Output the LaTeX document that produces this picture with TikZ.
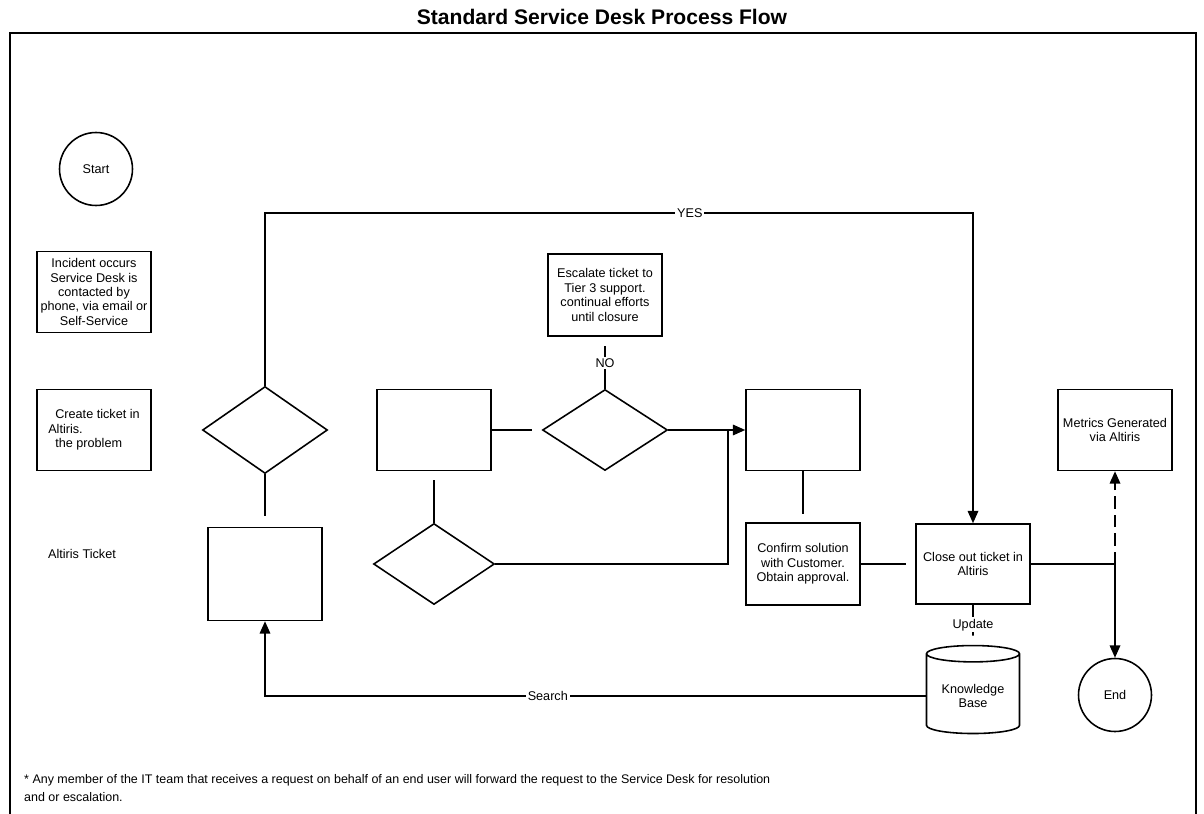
\documentclass[tikz,border=0pt]{standalone}
\usepackage{fontspec}
\setmainfont{Liberation Sans}
\usetikzlibrary{arrows.meta, positioning, calc, shapes.geometric}

\begin{document}
\begin{tikzpicture}[
				x=0.02cm, y=-0.02cm,
				font=\fontsize{7.2}{8.2}\selectfont,
				box/.style={rectangle, draw, line width=0.9pt, minimum width=2.28cm,
					minimum height=1.62cm, align=center, inner sep=1pt},
				decision/.style={diamond, draw, line width=0.9pt, inner sep=0pt,
					minimum width=2.5cm, minimum height=1.62cm},
				terminal/.style={circle, draw, line width=0.9pt, minimum size=1.46cm},
				line/.style={draw, line width=0.9pt},
				arrow/.style={line, -{Triangle[length=7pt, width=6pt]}},
				dasharrow/.style={arrow, dash pattern=on 7pt off 3.5pt},
				lbl/.style={fill=white, inner sep=1pt}
				]
				\useasboundingbox (0,0) rectangle (1204,814);
				% --- Title and frame ---
				\node[font=\bfseries\fontsize{12}{14}\selectfont] (title) at (602,17) {Standard Service Desk Process Flow};
				\draw[line] (10,820) -- (10,33) -- (1196,33) -- (1196,820);
				
				% --- Left column ---
				\node[terminal] (start) at (96,169) {Start};
				\node[box] (incident) at (94,292) {Incident occurs\\ Service Desk is\\ contacted by\\ phone, via email or\\ Self-Service};
				\node[box, align=left] (create) at (94,430) {\hspace*{4pt}Create ticket in\\ Altiris.\\ \hspace*{4pt}the problem};
				\node (ticket) at (82,554) {Altiris Ticket};
				
				% --- Process ---
				\node[decision, minimum height=1.74cm] (dec1) at (265,430) {};
				\node[box, minimum height=1.86cm] (act1) at (265,574) {};
				\node[box] (act2) at (434,430) {};
				\node[decision] (dec2) at (605,430) {};
				\node[box, minimum height=1.64cm] (escal) at (605,295) {Escalate ticket to\\ Tier 3 support.\\ continual efforts\\ until closure};
				\node[decision, minimum width=2.42cm] (dec3) at (434,564) {};
				\node[box] (act3) at (803,430) {};
				\node[box, minimum height=1.64cm] (confirm) at (803,564) {Confirm solution\\ with Customer.\\ Obtain approval.};
				\node[box, minimum height=1.6cm] (close) at (973,564) {Close out ticket in\\ Altiris};
				\node[box] (metrics) at (1115,430) {Metrics Generated\\ via Altiris};
				\node[cylinder, shape border rotate=90, aspect=0.22, draw, line width=0.9pt,
					minimum width=1.86cm, minimum height=1.76cm, align=center] (kb) at (973,696) {Knowledge\\ Base};
				\node[terminal] (end) at (1115,695) {End};
				
				% --- Connectors ---
				\coordinate (join) at (728,430);
				\coordinate (fork) at (1115,564);
				\draw[arrow] (dec1.north) |- node[lbl, pos=0.8] {YES} (close.north |- 0,213) -- (close.north);
				\draw[line, shorten >=0.22cm] (dec1.south) -- (act1.north);
				\draw[arrow] (kb.west) -| node[lbl, pos=0.286] {Search} (act1.south);
				\draw[line, shorten >=0.2cm] (act2.east) -- (dec2.west);
				\draw[line, shorten >=0.18cm] (dec2.north) -- node[lbl, pos=0.5] {NO} (escal.south);
				\draw[arrow] (dec2.east) -- (act3.west);
				\draw[line, shorten <=0.18cm] (act2.south) -- (dec3.north);
				\draw[line] (dec3.east) -| (join);
				\draw[line, shorten >=0.16cm] (act3.south) -- (confirm.north);
				\draw[line, shorten >=0.18cm] (confirm.east) -- (close.west);
				\draw[arrow] (close.east) -| (end.north);
				\draw[dasharrow] (fork) -- (metrics.south);
				\draw[line, dash pattern=on 7pt off 3.5pt, shorten >=0.18cm] (close.south) -- node[lbl] {Update} (kb.north);
				
				% --- Footnote ---
				\node[anchor=north west, align=left, font=\fontsize{7.1}{10.2}\selectfont] (note) at (18,768)
					{* Any member of the IT team that receives a request on behalf of an end user will forward the request to the Service Desk for resolution\\ and or escalation.};
			\end{tikzpicture}
\end{document}
